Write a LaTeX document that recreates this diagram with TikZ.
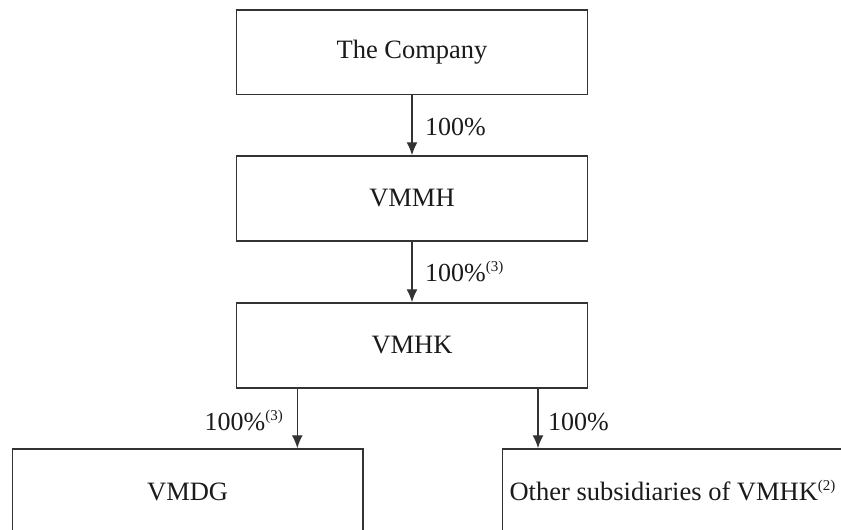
\documentclass[tikz,border=0pt]{standalone}
\usepackage{fontspec}
\setmainfont{Liberation Serif}
\usetikzlibrary{arrows.meta}
\definecolor{ln}{HTML}{333333}
\definecolor{tx}{HTML}{1A1A1A}
\newcommand{\sups}[1]{\raisebox{10pt}[0pt][0pt]{\fontsize{15}{15}\selectfont(#1)}}
\begin{document}
\begin{tikzpicture}[x=1pt,y=-1pt,
  box/.style={draw=ln,line width=1.5pt,minimum width=350.6pt,minimum height=85pt,inner sep=0pt,font=\fontsize{26.5}{31}\selectfont,text=tx},
  arr/.style={draw=ln,line width=1.4pt,-{Latex[length=13pt,width=11pt]}},
  lbl/.style={font=\fontsize{26}{31}\selectfont,text=tx,inner sep=0pt}]
\useasboundingbox (0,0) rectangle (841,530);
\node[box,minimum height=84.7pt] (co) at (412,52.35) {The Company};
\node[box] (vmmh) at (412,198.5) {VMMH};
\node[box] (vmhk) at (412,345.5) {VMHK};
\node[box] (vmdg) at (187.65,491.5) {VMDG};
\node[box,minimum width=340.4pt] (oth) at (672.5,491.5) {Other subsidiaries of VMHK\sups{2}};
\coordinate (xl) at (297.3,0);
\coordinate (xr) at (538,0);
\draw[arr] (co) -- (vmmh);
\draw[arr] (vmmh) -- (vmhk);
\draw[arr] (vmhk.south -| xl) -- (vmdg.north -| xl);
\draw[arr] (vmhk.south -| xr) -- (oth.north -| xr);
\node[lbl,anchor=west] (l1) at (425,127) {100\%};
\node[lbl,anchor=west] (l2) at (425,273) {100\%\sups{3}};
\node[lbl,anchor=east] (l3) at (283,422) {100\%\sups{3}};
\node[lbl,anchor=west] (l4) at (548,422) {100\%};
\end{tikzpicture}
\end{document}
